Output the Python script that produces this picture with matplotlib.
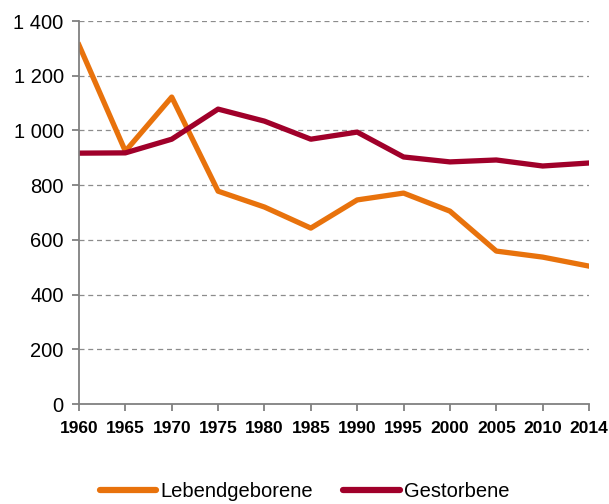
import matplotlib.pyplot as plt
from matplotlib.ticker import FuncFormatter
from matplotlib import font_manager

years = ["1960", "1965", "1970", "1975", "1980", "1985", "1990",
         "1995", "2000", "2005", "2010", "2014"]
lebendgeborene = [1312, 924, 1122, 778, 720, 643, 746, 771, 705, 559, 537, 504]
gestorbene = [917, 918, 968, 1078, 1034, 968, 994, 903, 885, 892, 870, 881]

names = {f.name for f in font_manager.fontManager.ttflist}
narrow = "Liberation Sans Narrow" if "Liberation Sans Narrow" in names else "Liberation Sans"
plt.rcParams['font.family'] = ['Liberation Sans', 'DejaVu Sans']

fig = plt.figure(figsize=(6.09, 5.04), dpi=100)
ax = fig.add_axes([0.1297, 0.1984, 0.8375, 0.7599])

x = range(len(years))
ax.plot(x, lebendgeborene, color='#E8720C', lw=3.8, label='Lebendgeborene',
        solid_joinstyle='round')
ax.plot(x, gestorbene, color='#A0002A', lw=3.8, label='Gestorbene',
        solid_joinstyle='round')

ax.set_xlim(0, len(years) - 1)
ax.set_ylim(0, 1400)
ax.set_yticks(range(0, 1401, 200))
ax.yaxis.set_major_formatter(FuncFormatter(lambda v, p: f"{int(v):,}".replace(",", " ")))
ax.set_xticks(list(x))
ax.set_xticklabels(years, fontfamily=narrow, fontweight='bold', fontsize=12.5)

for v in range(200, 1401, 200):
    ax.axhline(v, color='#8c8c8c', lw=0.9, ls=(0, (4, 3)), zorder=0)

for s in ['top', 'right']:
    ax.spines[s].set_visible(False)
for s in ['left', 'bottom']:
    ax.spines[s].set_color('#808080')
    ax.spines[s].set_linewidth(1.3)
ax.tick_params(axis='y', labelsize=14.5, length=5, color='#808080', width=1.3, pad=6)
ax.tick_params(axis='x', length=5, color='#808080', width=1.3, pad=7)

leg = fig.legend(loc='center', bbox_to_anchor=(0.5, 0.024), ncol=2, frameon=False,
                 fontsize=14.5, handlelength=2.8, handletextpad=0.2, columnspacing=1.5)
for h in leg.get_lines():
    h.set_linewidth(4.5)
    h.set_solid_capstyle('round')

fig.savefig('out.png', dpi=100)
